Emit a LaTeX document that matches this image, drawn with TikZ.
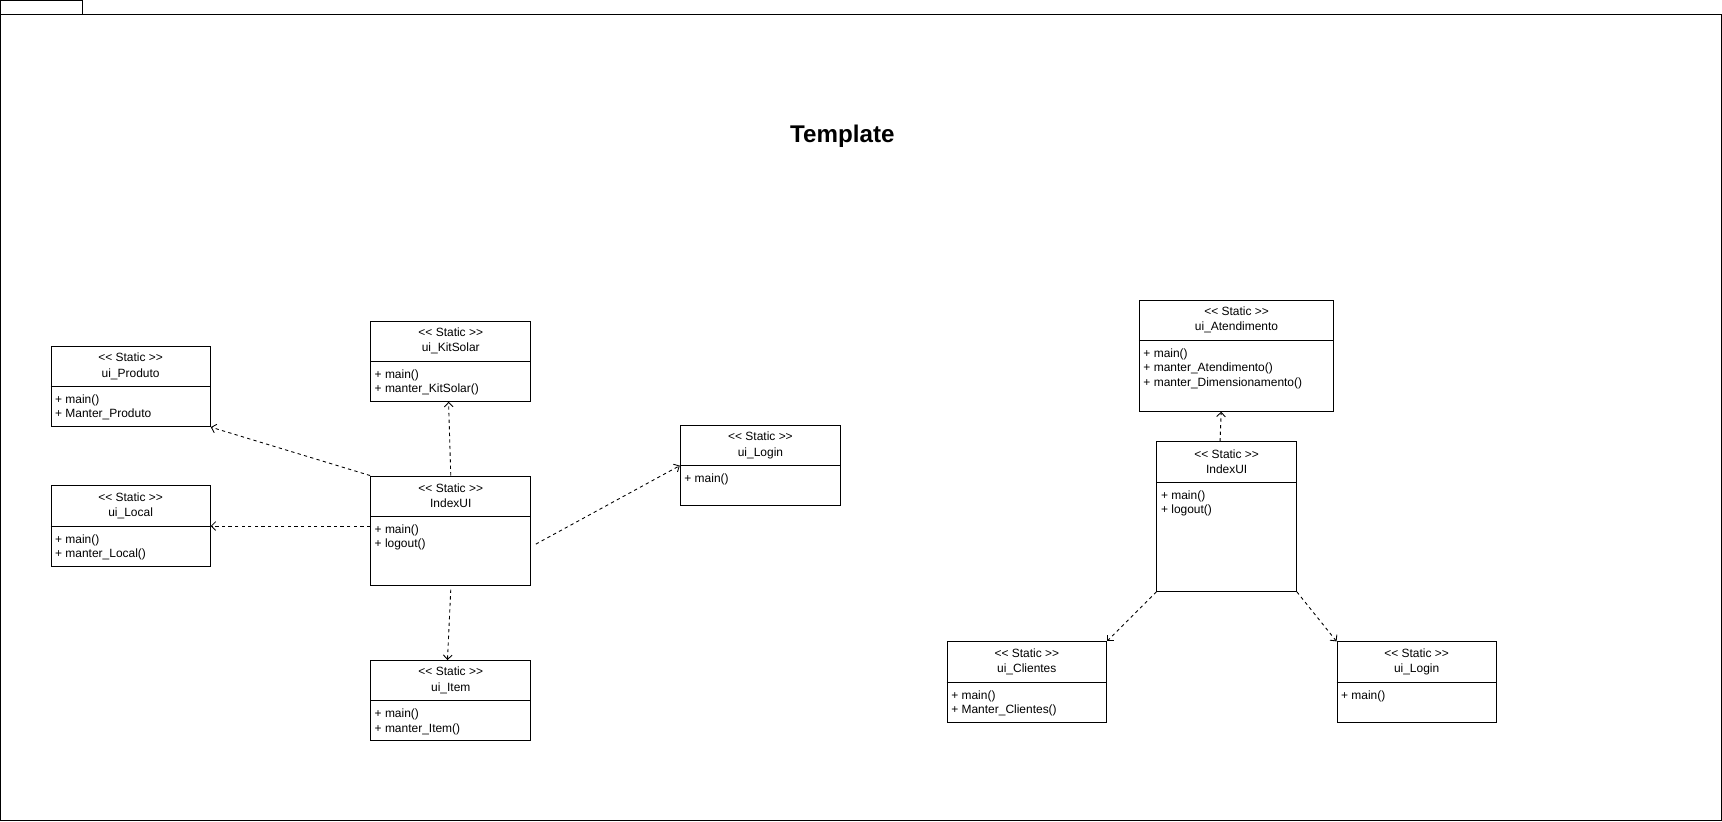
\documentclass[tikz,border=0pt]{standalone}
\usepackage{fontspec}
\setmainfont{Liberation Sans}
\usetikzlibrary{arrows.meta}
\newcommand{\stereo}{<\kern0pt< Static >\kern0pt>}

\begin{document}
\begin{tikzpicture}[x=1pt,y=-1pt,
  font=\fontsize{10.9}{13}\selectfont,
  cls/.style={draw,line width=0.9pt,anchor=north west,inner sep=0pt},
  hdr/.style={align=center,inner sep=0pt,font=\fontsize{10.9}{14}\selectfont},
  ops/.style={align=left,anchor=north west,inner sep=0pt},
  sep/.style={line width=0.9pt},
  dep/.style={dash pattern=on 3pt off 3pt,line width=0.8pt,-{Straight Barb[length=4pt,width=8pt]}}]

\useasboundingbox (0,0) rectangle (1568,748);
% package frame
\draw[line width=0.9pt] (0.5,0.5) rectangle (75,13);
\draw[line width=0.9pt] (0.5,13) rectangle (1567.5,747.5);
\node[font=\fontsize{22}{26}\selectfont\bfseries] (title) at (767,124) {Template};

% left group
\node[cls,minimum width=145pt,minimum height=73pt] (prod) at (46,315) {};
\node[hdr] (prod-h) at ([yshift=-18.5pt]prod.north) {\stereo\\ui\_Produto};
\draw[sep] ([yshift=-37pt]prod.north west) -- ([yshift=-37pt]prod.north east);
\node[ops] (prod-o) at ([xshift=4pt,yshift=-44.5pt]prod.north west) {+ main()\\+ Manter\_Produto};

\node[cls,minimum width=145pt,minimum height=73pt] (loc) at (46,442) {};
\node[hdr] (loc-h) at ([yshift=-18.5pt]loc.north) {\stereo\\ui\_Local};
\draw[sep] ([yshift=-37pt]loc.north west) -- ([yshift=-37pt]loc.north east);
\node[ops] (loc-o) at ([xshift=4pt,yshift=-44.5pt]loc.north west) {+ main()\\+ manter\_Local()};

\node[cls,minimum width=146pt,minimum height=73pt] (kit) at (337,292) {};
\node[hdr] (kit-h) at ([yshift=-18.5pt]kit.north) {\stereo\\ui\_KitSolar};
\draw[sep] ([yshift=-37pt]kit.north west) -- ([yshift=-37pt]kit.north east);
\node[ops] (kit-o) at ([xshift=4pt,yshift=-44.5pt]kit.north west) {+ main()\\+ manter\_KitSolar()};

\node[cls,minimum width=146pt,minimum height=100pt] (idxL) at (337,433) {};
\node[hdr] (idxL-h) at ([yshift=-18.5pt]idxL.north) {\stereo\\IndexUI};
\draw[sep] ([yshift=-37pt]idxL.north west) -- ([yshift=-37pt]idxL.north east);
\node[ops] (idxL-o) at ([xshift=4pt,yshift=-44.5pt]idxL.north west) {+ main()\\+ logout()};

\node[cls,minimum width=146pt,minimum height=73pt] (logL) at (619,387) {};
\node[hdr] (logL-h) at ([yshift=-18.5pt]logL.north) {\stereo\\ui\_Login};
\draw[sep] ([yshift=-37pt]logL.north west) -- ([yshift=-37pt]logL.north east);
\node[ops] (logL-o) at ([xshift=4pt,yshift=-44.5pt]logL.north west) {+ main()};

\node[cls,minimum width=146pt,minimum height=73pt] (item) at (337,601) {};
\node[hdr] (item-h) at ([yshift=-18.5pt]item.north) {\stereo\\ui\_Item};
\draw[sep] ([yshift=-37pt]item.north west) -- ([yshift=-37pt]item.north east);
\node[ops] (item-o) at ([xshift=4pt,yshift=-44.5pt]item.north west) {+ main()\\+ manter\_Item()};

% right group
\node[cls,minimum width=177pt,minimum height=101pt] (atd) at (1037,273) {};
\node[hdr] (atd-h) at ([yshift=-18.5pt]atd.north) {\stereo\\ui\_Atendimento};
\draw[sep] ([yshift=-37pt]atd.north west) -- ([yshift=-37pt]atd.north east);
\node[ops] (atd-o) at ([xshift=4pt,yshift=-44.5pt]atd.north west) {+ main()\\+ manter\_Atendimento()\\+ manter\_Dimensionamento()};

\node[cls,minimum width=127pt,minimum height=136pt] (idxR) at (1053,402) {};
\node[hdr] (idxR-h) at ([yshift=-18.5pt]idxR.north) {\stereo\\IndexUI};
\draw[sep] ([yshift=-37pt]idxR.north west) -- ([yshift=-37pt]idxR.north east);
\node[ops] (idxR-o) at ([xshift=4pt,yshift=-44.5pt]idxR.north west) {+ main()\\+ logout()};

\node[cls,minimum width=145pt,minimum height=73pt] (cli) at (862,584) {};
\node[hdr] (cli-h) at ([yshift=-18.5pt]cli.north) {\stereo\\ui\_Clientes};
\draw[sep] ([yshift=-37pt]cli.north west) -- ([yshift=-37pt]cli.north east);
\node[ops] (cli-o) at ([xshift=4pt,yshift=-44.5pt]cli.north west) {+ main()\\+ Manter\_Clientes()};

\node[cls,minimum width=145pt,minimum height=73pt] (logR) at (1217,584) {};
\node[hdr] (logR-h) at ([yshift=-18.5pt]logR.north) {\stereo\\ui\_Login};
\draw[sep] ([yshift=-37pt]logR.north west) -- ([yshift=-37pt]logR.north east);
\node[ops] (logR-o) at ([xshift=4pt,yshift=-44.5pt]logR.north west) {+ main()};

% dependencies
\draw[dep] (idxL.north west) -- (prod.south east);
\draw[dep] (loc.east -| idxL.west) -- (loc.east);
\draw[dep] (idxL.north) -- ([xshift=-2pt]kit.south);
\draw[dep] ([yshift=-3pt]idxL.south) -- ([xshift=-3pt]item.north);
\draw[dep] ([xshift=4pt,yshift=-12pt]idxL.east) -- ([yshift=-37pt]logL.north west);
\draw[dep] ([xshift=-6pt]idxR.north) -- ([xshift=-14pt]atd.south);
\draw[dep] (idxR.south west) -- (cli.north east);
\draw[dep] (idxR.south east) -- (logR.north west);

\end{tikzpicture}
\end{document}
